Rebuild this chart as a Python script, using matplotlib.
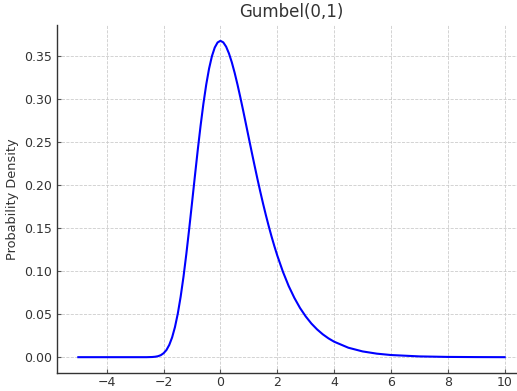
import numpy as np
import matplotlib.pyplot as plt

# Values
x_vals = [ -5.0, -4.0, -3.0, -2.6, -2.4, -2.3, -2.2, -2.1, -2.0, -1.9, -1.8, -1.7, -1.6, -1.5,
           -1.4, -1.3, -1.2, -1.1, -1.0, -0.9, -0.8, -0.7, -0.6, -0.5, -0.4, -0.3, -0.2, -0.1,
           0.0, 0.1, 0.2, 0.3, 0.4, 0.5, 0.6, 0.7, 0.8, 0.9, 1.0, 1.1, 1.2, 1.3, 1.4, 1.5,
           1.6, 1.7, 1.8, 1.9, 2.0, 2.2, 2.4, 2.6, 2.8, 3.0, 3.2, 3.4, 3.6, 3.8, 4.0,
           4.5, 5.0, 5.5, 6.0, 7.0, 8.0, 9.0, 10.0 ]
density = [ 0.0, 0.0, 0.0, 0.0, 0.0002, 0.0005, 0.0011, 0.0023, 0.0046, 0.0083, 0.0143, 0.0230,
            0.0350, 0.0507, 0.0703, 0.0935, 0.1200, 0.1490, 0.1794, 0.2102, 0.2404, 0.2688,
            0.2946, 0.3170, 0.3356, 0.3500, 0.3601, 0.3660, 0.3679, 0.3661, 0.3611, 0.3532,
            0.3429, 0.3307, 0.3170, 0.3022, 0.2867, 0.2707, 0.2546, 0.2386, 0.2229, 0.2075,
            0.1927, 0.1785, 0.1650, 0.1522, 0.1401, 0.1288, 0.1182, 0.0992, 0.0828, 0.0690,
            0.0572, 0.0474, 0.0391, 0.0323, 0.0266, 0.0219, 0.0180, 0.0110, 0.0067, 0.0041,
            0.0025, 0.0009, 0.0003, 0.0001, 0.0 ]

fig = plt.figure( figsize=( 5.17, 3.91 ), dpi=100 )
ax = fig.add_axes( [ 57 / 517, 18 / 391, 469 / 517, 348 / 391 ] )

ax.plot( x_vals, density, color='blue', linewidth=1.5 )
ax.set_xlim( -5.75, 10.75 )
ax.set_ylim( -0.0184, 0.3863 )
ax.set_xticks( [ -4, -2, 0, 2, 4, 6, 8, 10 ] )
ax.set_yticks( [ 0.0, 0.05, 0.10, 0.15, 0.20, 0.25, 0.30, 0.35 ] )
ax.yaxis.set_major_formatter( plt.FormatStrFormatter( '%.2f' ) )

ax.grid( True, linestyle='--', color='#cccccc', linewidth=0.6 )
ax.set_axisbelow( True )
for side in [ 'top', 'right' ]:
    ax.spines[ side ].set_visible( False )
for side in [ 'left', 'bottom' ]:
    ax.spines[ side ].set_color( '#333333' )
    ax.spines[ side ].set_linewidth( 1.0 )
ax.tick_params( axis='both', direction='in', length=3, width=0.8, color='#555555',
                labelsize=9, labelcolor='#333333' )
ax.tick_params( axis='x', pad=2.5 )
ax.tick_params( axis='y', pad=3.5 )

ax.set_title( 'Gumbel(0,1)', fontsize=12, color='#333333', pad=6 )
ax.set_ylabel( 'Probability Density', fontsize=9.3, color='#333333', labelpad=4 )

fig.savefig( 'out.png', dpi=100 )
